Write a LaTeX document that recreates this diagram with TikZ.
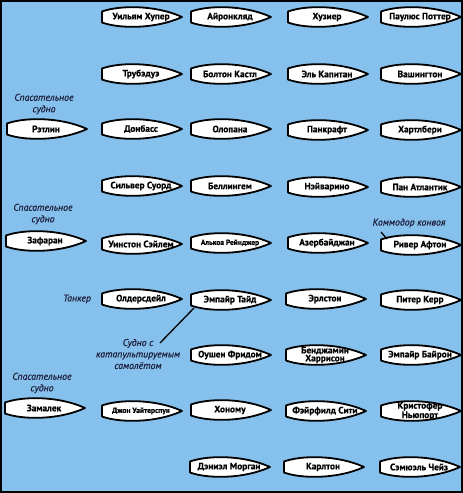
\documentclass[tikz,border=0pt]{standalone}
\usepackage{fontspec}
\setmainfont{PT Sans}
\newfontfamily\shipfont[UprightFont={* Bold}, FakeBold=0.5]{PT Sans}
\newfontfamily\notefont[UprightFont={* Italic}, FakeBold=0.25]{PT Sans}
\definecolor{sea}{RGB}{134,192,236}
\definecolor{lbl}{RGB}{28,28,58}
\tikzset{
  hull/.style={draw=black, line width=1.8pt, fill=white, line join=round},
  shiptxt/.style={font=\shipfont\fontsize{9.3}{8}\selectfont, inner sep=0pt, align=center},
  smalltxt/.style={shiptxt, font=\shipfont\fontsize{7.5}{7}\selectfont},
  note/.style={font=\notefont\fontsize{9.8}{11.5}\selectfont, text=lbl, inner sep=0pt, align=center},
  pointer/.style={draw=black, line width=1.3pt}
}
\newcommand\ship[5][shiptxt]{%
  \begin{scope}[shift={(#3,#4)}]
    \draw[hull] (-40,-5.5) -- (-40,5.5) .. controls (-22,12) and (14,12) .. (40,0)
      .. controls (14,-12) and (-22,-12) .. (-40,-5.5) -- cycle;
    \node[#1] (#2) at (-1,0) {#5};
  \end{scope}}
\begin{document}
\begin{tikzpicture}[x=1pt,y=-1pt]
  \useasboundingbox (0,0) rectangle (463,493);
  \fill[sea] (0,0) rectangle (463,493);
  \draw[black, line width=2pt] (1,1) rectangle (462,492);

  % row 0
  \ship{s01}{142}{17}{Уильям Хупер}
  \ship{s02}{231}{17}{Айронкляд}
  \ship{s03}{328}{17}{Хузиер}
  \ship{s04}{421}{17}{Паулюс Поттер}
  % row 1
  \ship{s11}{142}{74}{Трубэдуэ}
  \ship{s12}{231}{74}{Болтон Кастл}
  \ship{s13}{328}{74}{Эль Капитан}
  \ship{s14}{421}{74}{Вашингтон}
  % row 2
  \ship{s20}{47}{129}{Рэтлин}
  \ship{s21}{142}{129}{Донбасс}
  \ship{s22}{231}{129}{Олопана}
  \ship{s23}{328}{130}{Панкрафт}
  \ship{s24}{421}{130}{Хартлбери}
  % row 3
  \ship{s31}{142}{186}{Сильвер Суорд}
  \ship{s32}{231}{186}{Беллингем}
  \ship{s33}{328}{187}{Нэйварино}
  \ship{s34}{421}{187}{Пан Атлантик}
  % row 4
  \ship{s40}{46}{241}{Зафаран}
  \ship{s41}{142}{244}{Уинстон Сэйлем}
  \ship[smalltxt]{s42}{231}{243}{Алькоа Рейнджер}
  \ship{s43}{328}{243}{Азербайджан}
  \ship{s44}{421}{245}{Ривер Афтон}
  % row 5
  \ship{s51}{142}{299}{Олдерсдейл}
  \ship{s52}{231}{300}{Эмпайр Тайд}
  \ship{s53}{326}{299}{Эрлстон}
  \ship{s54}{421}{300}{Питер Керр}
  % row 6
  \ship{s62}{231}{355}{Оушен Фридом}
  \ship{s63}{326}{355}{Бенджамин\\Харрисон}
  \ship{s64}{421}{355}{Эмпайр Байрон}
  % row 7
  \ship{s70}{45}{408}{Замалек}
  \ship[smalltxt]{s71}{142}{411}{Джон Уайтерспун}
  \ship{s72}{231}{410}{Хоному}
  \ship{s73}{326}{411}{Фэйрфилд Сити}
  \ship{s74}{421}{411}{Кристофер\\Ньюпорт}
  % row 8
  \ship{s82}{230}{467}{Дэниэл Морган}
  \ship{s83}{324}{467}{Карлтон}
  \ship{s84}{420}{467}{Сэмюэль Чейз}

  % notes
  \node[note] (n1) at (44,104) {Спасательное\\судно};
  \node[note] (n2) at (43,214) {Спасательное\\судно};
  \node[note] (n3) at (42,383) {Спасательное\\судно};
  \node[note] (n4) at (77,299) {Танкер};
  \node[note] (n5) at (409,223) {Коммодор конвоя};
  \node[note] (n6) at (138,354) {Судно с\\катапультируемым\\самолётом};

  \coordinate (p5a) at (381,232);
  \coordinate (p5b) at (387,239);
  \draw[pointer] (p5a) -- (p5b);
  \coordinate (p6a) at (194,308);
  \coordinate (p6b) at (160,343);
  \draw[pointer] (p6a) -- (p6b);
\end{tikzpicture}
\end{document}
